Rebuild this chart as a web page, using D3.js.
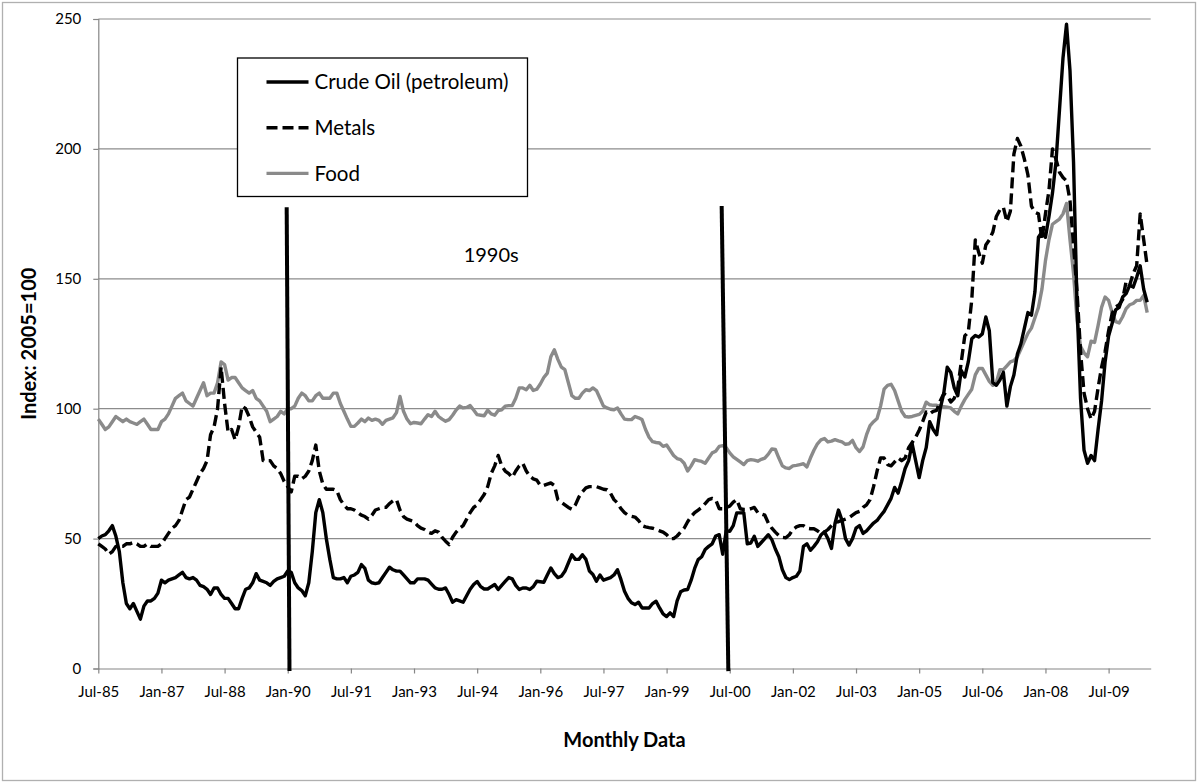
<!DOCTYPE html>
<html>
<head>
<meta charset="utf-8">
<script src="https://cdn.jsdelivr.net/npm/d3@7"></script>
<style>
  html, body { margin: 0; padding: 0; background: #fff; }
  svg { display: block; font-family: Lato, 'Open Sans', sans-serif; }
</style>
</head>
<body>
<div id="chart"></div>
<script>
(() => {
  // Constants
  const WIDTH = 1198;
  const HEIGHT = 782;

  // Data: monthly index values (2005=100), starting Jul-85
  const oil = [
    50, 51, 51.5, 53, 55, 51, 45, 33, 25, 23, 25, 22,
    19, 24, 26, 26, 27, 29, 34, 33, 34, 34.5, 35, 36,
    37, 35, 34.5, 35, 34, 32, 31.5, 30.5, 28.5, 31, 31, 28.5,
    27, 27, 25, 23, 23, 27, 30.5, 31, 33, 36.5, 34, 33.5,
    33, 32, 33.5, 34.5, 35, 35.5, 37.5, 37, 33, 31, 30, 28,
    33, 45, 60, 65, 60, 50, 42, 35, 34.5, 34.5, 35, 33,
    35.5, 36, 37, 40, 38.5, 34, 33, 32.7, 33, 35, 37, 39,
    38, 37.5, 37.5, 36, 34.5, 33, 33, 34.5, 34.5, 34.5, 34, 32.5,
    31, 30.5, 30.5, 31, 28.5, 25.5, 26.5, 26, 25.5, 28, 30.5, 32.3,
    33.5, 31.5, 30.6, 30.6, 31.5, 32.3, 30.4, 32, 33.5, 35, 34.5, 32,
    30.4, 31, 31, 30.4, 31.5, 33.6, 33.4, 33.2, 36, 38.7, 36.5, 35,
    35.5, 37.4, 40.6, 43.8, 42, 42, 43.8, 42, 37.5, 36.2, 33.6, 36,
    34, 34.5, 35, 36, 38, 34.2, 29.7, 27, 25.3, 24.6, 25.5, 23.3,
    23.3, 23.3, 25, 25.9, 23.3, 21, 20, 21.4, 20, 26, 29.5, 30.2,
    30.4, 34, 38.5, 41.9, 43, 45.8, 47, 48, 51, 51.5, 44, 53,
    52.8, 55, 59.9, 59.9, 60, 48, 48.3, 50.9, 47, 48.5, 50, 51.5,
    49.6, 46, 43, 38, 35, 34.2, 35, 35.5, 37.5, 47, 48, 45.5,
    47, 48.8, 51.4, 52.6, 50, 46.2, 55.8, 61, 57, 50, 47.5, 50,
    54, 55, 52, 53, 54.5, 56, 57, 58.8, 60.5, 63, 65.5, 69.7,
    67.5, 72, 77, 80, 86.5, 80, 73.5, 80, 85, 95, 92, 90,
    100, 105.8, 116, 114, 108, 105, 114.7, 112.2, 118, 126.9, 128.2, 127.6,
    128.8, 135.3, 130, 110, 109, 111, 114, 101, 108.5, 113, 121, 125,
    131, 137, 136, 145, 166, 168, 166, 174, 183, 195, 215, 235,
    248, 230, 195, 140, 104, 84, 79, 82, 80, 92, 103, 118,
    128, 132.8, 138, 139, 143, 144.3, 147.5, 146.8, 150.6, 155, 146, 141
  ];

  const metals = [
    48, 47, 46, 44, 45, 47, 47, 47, 48, 48, 48.5, 48,
    47, 47, 48, 47, 47, 47, 48, 50, 52, 54, 55, 57,
    61, 65, 66, 69, 72, 75, 77, 80, 90, 93, 100, 116,
    102, 91, 92, 88, 93, 101, 100, 97, 93, 91, 89, 80,
    80, 80, 78, 77, 75, 72, 70, 68, 74, 74, 73, 74,
    76, 80, 86, 76, 71, 69, 69, 69, 68.5, 65, 63, 61.5,
    61.5, 61, 60, 59, 58.5, 57.5, 59, 61, 61.5, 62, 62, 63.5,
    64.5, 65, 61, 58.5, 57.5, 57, 56.5, 55, 54, 53.5, 52.5, 52,
    53, 52.5, 50.5, 49, 47.7, 50.5, 52.5, 54, 55, 57.5, 60, 62,
    63, 65, 67, 70, 75, 78, 82, 78, 76, 75, 73.5, 76,
    78, 79, 76, 74, 73, 72.5, 70.5, 70.5, 71, 71.4, 70.5, 65,
    64, 63, 62, 61.3, 63, 66, 68, 69.5, 70, 70, 70, 69.5,
    69, 68.8, 67.5, 65, 63.7, 61.5, 60, 59, 58.6, 58.3, 57, 55,
    54.5, 54.2, 54, 53.5, 53, 52.5, 51.5, 50, 50, 51, 52.5, 54,
    56.5, 58.5, 60, 61, 62, 63.5, 65, 65.5, 65, 61.5, 61.5, 62,
    62.5, 64, 65, 61.5, 61.2, 61.2, 61.5, 62, 60, 59.5, 59, 56,
    54, 52.5, 51.2, 50.5, 50.3, 51.5, 53.5, 54.5, 55, 55, 54, 53.8,
    53.8, 53, 52, 52.5, 53.5, 55, 56.4, 56.5, 57, 57.5, 58, 59,
    60, 60.5, 62, 63, 65, 70, 76, 81, 81, 78.5, 78, 79.5,
    81, 80, 81, 85, 87, 89, 91.7, 95, 98.7, 98, 99, 99.4,
    103, 105.8, 105, 102.6, 104, 108, 118, 128, 129.5, 142, 165, 160,
    156, 163, 165, 168, 174, 176.5, 177.5, 172, 176, 198, 204, 201,
    196, 190, 178, 175.6, 175, 165, 175, 184, 200, 196, 191, 189,
    187.7, 180, 163, 145, 122, 106, 100, 96, 99, 108, 116, 122,
    130, 136.6, 139.2, 140, 142, 149, 147.5, 152, 155, 175, 165, 155
  ];

  const food = [
    96, 94, 92, 93, 95, 97, 96, 95, 96, 95, 94.5, 94,
    95, 96, 94, 92, 92, 92, 95, 96, 98, 101, 104, 105,
    106, 103, 102, 101, 104, 107, 110, 105, 106, 106, 110, 118,
    117, 111, 112, 112, 110, 108, 107, 106, 107, 104, 103, 101,
    99, 95, 96, 97, 99, 98, 100, 100, 101, 104, 106, 105,
    103, 103, 105, 106, 104, 104, 104, 106, 106, 102, 99, 96,
    93.2, 93.2, 94.5, 96, 95, 96.4, 95.5, 96, 95.5, 94, 95.5, 96,
    96.5, 98.5, 104.7, 99, 96, 94.2, 94.7, 94.5, 94.2, 96, 97.7, 97,
    99, 97, 96, 95.2, 95.8, 97.5, 99.5, 101, 100.3, 100.5, 101.2, 99.5,
    97.7, 97.5, 97.3, 99.4, 98, 97.5, 99.3, 99.6, 101, 101.2, 101.2, 104,
    108, 108, 107.3, 109, 107, 107.5, 109.5, 112, 113.7, 120, 122.7, 119,
    116, 115, 110, 105, 104, 104, 106, 107.3, 107, 108, 107, 104,
    101, 100.3, 99.8, 99.6, 100.3, 98, 96, 95.8, 95.8, 97, 96.5, 95.8,
    92, 89, 87.3, 87, 86.8, 85.5, 86, 84, 82, 80.8, 80.4, 79,
    76, 78, 80.4, 80, 79.7, 79, 81, 83, 83.6, 85.5, 85.8, 85,
    83, 81.5, 80.5, 79.5, 78.5, 80, 80.4, 80.2, 79.8, 80.5, 81, 82.5,
    84.5, 84.3, 81, 78, 77.2, 77, 78, 78.2, 78.5, 78.8, 77.6, 81,
    84, 86.5, 88, 88.5, 87.2, 87.5, 88.1, 87.6, 87.2, 86.3, 86.5, 87.8,
    85, 83.5, 85.3, 90, 93.5, 95, 96.2, 101, 107.5, 109, 109.4, 107,
    103, 99, 97, 96.8, 97, 97.4, 97.8, 99, 102.5, 101.5, 101.3, 101.3,
    101, 100.8, 100.6, 100.3, 99, 98, 101, 103.5, 105.5, 107.5, 113, 115.5,
    115.5, 113, 110.5, 109, 110, 115, 115, 116.5, 118, 118.5, 120, 123,
    126, 129, 131, 135, 139, 146, 157, 165, 171, 172, 173, 175,
    179, 165, 152, 134, 124, 121.5, 120, 126, 125.5, 132, 139, 143,
    141.7, 137, 133.5, 133, 135.4, 138.5, 140, 140.5, 141.7, 141.7, 143.6, 137
  ];

  // x tick labels, one every 18 months from Jul-85
  const tickLabels = [
    'Jul-85', 'Jan-87', 'Jul-88', 'Jan-90', 'Jul-91', 'Jan-93', 'Jul-94',
    'Jan-96', 'Jul-97', 'Jan-99', 'Jul-00', 'Jan-02', 'Jul-03', 'Jan-05',
    'Jul-06', 'Jan-08', 'Jul-09'
  ];
  const yTicks = [0, 50, 100, 150, 200, 250];

  const seriesNames = ['Crude Oil (petroleum)', 'Metals', 'Food'];

  // decade markers: [month at top, value at top, month at bottom, value at bottom]
  const decadeMarks = [
    [53.7, 177.5, 54.5, -1],
    [177.7, 178, 179.6, -1]
  ];

  // Scales
  const x = d3.scaleLinear().domain([0, 300]).range([98.3, 1150.7]);
  const y = d3.scaleLinear().domain([0, 250]).range([668.5, 19]);

  const styles = [
    { stroke: '#000', dash: null },
    { stroke: '#000', dash: '11,5' },
    { stroke: '#8a8a8a', dash: null }
  ];
  const series = [oil, metals, food].map((values, i) => ({
    name: seriesNames[i],
    values,
    ...styles[i]
  }));

  const svg = d3
    .select('#chart')
    .append('svg')
    .attr('width', WIDTH)
    .attr('height', HEIGHT)
    .attr('viewBox', `0 0 ${WIDTH} ${HEIGHT}`);

  // chart border
  svg
    .append('rect')
    .attr('x', 2.5)
    .attr('y', 2.5)
    .attr('width', WIDTH - 5)
    .attr('height', HEIGHT - 4)
    .attr('fill', '#fff')
    .attr('stroke', '#b0b0b0')
    .attr('stroke-width', 1.3);

  // gridlines
  svg
    .append('g')
    .selectAll('line')
    .data(yTicks.filter((d) => d > 0))
    .join('line')
    .attr('x1', x(0))
    .attr('x2', x(300))
    .attr('y1', (d) => y(d))
    .attr('y2', (d) => y(d))
    .attr('stroke', '#8c8c8c')
    .attr('stroke-width', 1.2);

  // y axis
  svg
    .append('g')
    .attr('transform', `translate(${x(0)},0)`)
    .call(
      d3.axisLeft(y).tickValues(yTicks).tickSize(5).tickPadding(12)
    )
    .call((g) => g.selectAll('line, path').attr('stroke', '#868686').attr('stroke-width', 1.2))
    .call((g) =>
      g
        .selectAll('text')
        .attr('fill', '#000')
        .style('font-size', '15px')
        .style('font-family', 'Lato, sans-serif')
    );

  // x axis
  svg
    .append('g')
    .attr('transform', `translate(0,${y(0)})`)
    .call(
      d3
        .axisBottom(x)
        .tickValues(d3.range(tickLabels.length).map((i) => i * 18))
        .tickFormat((d, i) => tickLabels[i])
        .tickSize(5)
        .tickSizeOuter(0)
        .tickPadding(13)
    )
    .call((g) => g.selectAll('line, path').attr('stroke', '#868686').attr('stroke-width', 1.2))
    .call((g) =>
      g
        .selectAll('text')
        .attr('fill', '#000')
        .style('font-size', '15px')
        .style('font-family', 'Lato, sans-serif')
    );

  // axis titles
  svg
    .append('text')
    .attr('transform', `translate(36,${(y(0) + y(250)) / 2}) rotate(-90)`)
    .attr('text-anchor', 'middle')
    .attr('font-weight', 'bold')
    .attr('font-size', 20)
    .text('Index: 2005=100');

  svg
    .append('text')
    .attr('x', (x(0) + x(300)) / 2)
    .attr('y', 747)
    .attr('text-anchor', 'middle')
    .attr('font-weight', 'bold')
    .attr('font-size', 20)
    .text('Monthly Data');

  // series lines
  const line = d3
    .line()
    .x((d, i) => x(i))
    .y((d) => y(d));

  svg
    .append('g')
    .selectAll('path')
    .data(series.slice().reverse())
    .join('path')
    .attr('d', (d) => line(d.values))
    .attr('fill', 'none')
    .attr('stroke', (d) => d.stroke)
    .attr('stroke-width', 3.4)
    .attr('stroke-linejoin', 'round')
    .attr('stroke-dasharray', (d) => d.dash);

  // decade marker lines
  svg
    .append('g')
    .selectAll('line')
    .data(decadeMarks)
    .join('line')
    .attr('x1', (d) => x(d[0]))
    .attr('y1', (d) => y(d[1]))
    .attr('x2', (d) => x(d[2]))
    .attr('y2', (d) => y(d[3]))
    .attr('stroke', '#000')
    .attr('stroke-width', 4);

  svg
    .append('text')
    .attr('x', x(112))
    .attr('y', y(156.3))
    .attr('text-anchor', 'middle')
    .attr('font-size', 20)
    .text('1990s');

  // Legend
  const legend = svg.append('g').attr('transform', 'translate(237.5,58)');
  legend
    .append('rect')
    .attr('width', 290)
    .attr('height', 138.5)
    .attr('fill', '#fff')
    .attr('stroke', '#000')
    .attr('stroke-width', 1.3);

  const rows = legend
    .selectAll('g')
    .data(series)
    .join('g')
    .attr('transform', (d, i) => `translate(0,${24 + i * 45.7})`);
  rows
    .append('line')
    .attr('x1', 29)
    .attr('x2', 71)
    .attr('stroke', (d) => d.stroke)
    .attr('stroke-width', 3.4)
    .attr('stroke-dasharray', (d) => d.dash);
  rows
    .append('text')
    .attr('x', 77)
    .attr('dy', '0.35em')
    .attr('font-size', 20.5)
    .text((d) => d.name);
})();
</script>
</body>
</html>
